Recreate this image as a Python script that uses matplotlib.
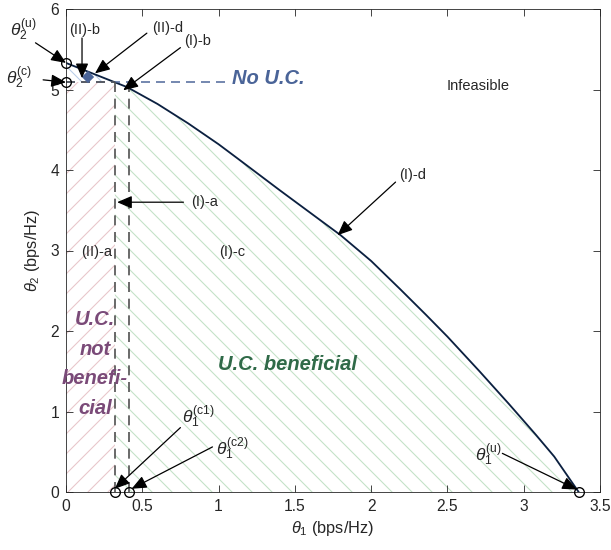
import numpy as np
import matplotlib
matplotlib.use("Agg")
import matplotlib.pyplot as plt

plt.rcParams['font.family'] = ['Liberation Sans', 'DejaVu Sans']
plt.rcParams['mathtext.fontset'] = 'custom'
plt.rcParams['mathtext.rm'] = 'Liberation Sans'
plt.rcParams['mathtext.it'] = 'Liberation Sans:italic'
plt.rcParams['mathtext.bf'] = 'Liberation Sans:bold'
plt.rcParams['hatch.linewidth'] = 0.65

# rate-region boundary (theta1, theta2) in bps/Hz
boundary_x = [0.0, 0.20, 0.32, 0.40, 0.60, 0.80, 1.00, 1.12, 1.40, 1.60,
              1.80, 2.00, 2.19, 2.36, 2.50, 2.71, 2.90, 3.08, 3.20, 3.36]
boundary_y = [5.33, 5.18, 5.09, 5.03, 4.82, 4.58, 4.32, 4.15, 3.75, 3.47,
              3.19, 2.87, 2.52, 2.20, 1.93, 1.50, 1.10, 0.71, 0.44, 0.0]

theta2_u = 5.33
theta2_c = 5.09
theta1_c1 = 0.32
theta1_c2 = 0.41
theta1_u = 3.36
no_uc_point = (0.145, 5.16)

ink = '#262626'
blue = '#4a6498'
purple = '#7a4a78'
green = '#2f6a48'

fs_note = 8.8
fs_theta = 10.4
fs_bold = 12.1

fig = plt.figure(figsize=(611 / 120, 550 / 120), dpi=120)
ax = fig.add_axes([66 / 611, 58 / 550, 534 / 611, 483 / 550])

bx = np.array(boundary_x)
by = np.array(boundary_y)

# U.C. not beneficial region (left strip)
ax.fill([0, theta1_c1, theta1_c1, 0], [0, 0, theta2_c, theta2_c],
        facecolor='none', edgecolor='#e8c6cb', hatch='//', lw=0)

# no U.C. sliver above theta2^(c)
top = bx <= theta1_c1
ax.fill(np.r_[0, bx[top]], np.r_[theta2_c, by[top]],
        facecolor='none', edgecolor='#b9cde8', hatch='\\\\', lw=0)

# U.C. beneficial region
right = bx >= theta1_c1
ax.fill(np.r_[bx[right], theta1_u, theta1_c1], np.r_[by[right], 0, 0],
        facecolor='none', edgecolor='#c3e2c8', hatch='\\\\', lw=0)

# boundary curve
ax.plot(bx, by, color='#0b2040', lw=1.1)

# dashed guides
y_c2 = np.interp(theta1_c2, bx, by)
dash = (0, (6, 4))
ax.plot([0, 1.07], [theta2_c, theta2_c], ls=dash, color=blue, lw=0.9)
ax.plot([0, theta1_c1], [theta2_c, theta2_c], ls=dash, color='#505050', lw=0.9)
ax.plot([theta1_c1, theta1_c1], [0, theta2_c], ls=dash, color='#505050', lw=1.0)
ax.plot([theta1_c2, theta1_c2], [0, y_c2], ls=dash, color='#505050', lw=1.0)

ax.plot(*no_uc_point, marker='D', color=blue, ms=4.5, mec=blue)

# corner points
ax.plot([0, 0, theta1_c1, theta1_c2, theta1_u], [theta2_u, theta2_c, 0, 0, 0],
        'o', mfc='none', mec='k', ms=5.8, mew=0.8, clip_on=False, zorder=5)

arrow = dict(arrowstyle='-|>,head_length=0.75,head_width=0.32', color='k', lw=0.75,
             shrinkA=0, shrinkB=0)


def arrow_to(xy, xytext):
    ax.annotate('', xy=xy, xytext=xytext, arrowprops=arrow, annotation_clip=False)


def label(x, y, s, size=fs_note, **kw):
    ax.text(x, y, s, fontsize=size, ha='center', va='center', color=ink, **kw)


arrow_to((0, theta2_u), (-0.20, 5.58))
label(-0.28, 5.74, r'$\theta_2^{(\mathrm{u})}$', fs_theta)
arrow_to((0, theta2_c), (-0.15, 5.12))
label(-0.31, 5.14, r'$\theta_2^{(\mathrm{c})}$', fs_theta)

arrow_to((0.105, 5.14), (0.105, 5.64))
label(0.125, 5.74, '(II)-b')
arrow_to((0.19, 5.20), (0.53, 5.70))
label(0.665, 5.76, '(II)-d')
arrow_to((0.375, 4.99), (0.75, 5.52))
label(0.865, 5.60, '(I)-b')
arrow_to((0.335, 3.60), (0.77, 3.60))
label(0.91, 3.60, '(I)-a')
arrow_to((1.78, 3.19), (2.16, 3.85))
label(2.27, 3.94, '(I)-d')

label(0.20, 2.98, '(II)-a')
label(1.09, 2.98, '(I)-c')
label(2.70, 5.04, 'Infeasible')

arrow_to((theta1_c1, 0.04), (0.75, 0.80))
label(0.87, 0.93, r'$\theta_1^{(\mathrm{c1})}$', fs_theta)
arrow_to((theta1_c2 + 0.02, 0.04), (0.96, 0.56))
label(1.09, 0.53, r'$\theta_1^{(\mathrm{c2})}$', fs_theta)
arrow_to((theta1_u - 0.01, 0.03), (2.86, 0.48))
label(2.77, 0.46, r'$\theta_1^{(\mathrm{u})}$', fs_theta)

# region captions
ax.text(1.09, 5.14, 'No U.C.', fontsize=fs_bold, fontweight='bold', fontstyle='italic',
        color=blue, ha='left', va='center')
ax.text(0.19, 1.59, 'U.C.\nnot\nbenefi-\ncial', fontsize=fs_bold, fontweight='bold',
        fontstyle='italic', color=purple, ha='center', va='center', linespacing=1.72)
ax.text(1.45, 1.58, 'U.C. beneficial', fontsize=fs_bold, fontweight='bold',
        fontstyle='italic', color=green, ha='center', va='center')

ax.set_xlim(0, 3.5)
ax.set_ylim(0, 6)
ax.set_xticks(np.arange(0, 3.51, 0.5))
ax.set_xticklabels(['0', '0.5', '1', '1.5', '2', '2.5', '3', '3.5'])
ax.set_yticks(range(7))
ax.tick_params(direction='in', top=True, right=True, length=4, width=0.5,
               labelsize=9.4, colors=ink, pad=4)
for s in ax.spines.values():
    s.set_color(ink)
    s.set_linewidth(0.5)
ax.set_xlabel(r'$\theta_1$ (bps/Hz)', fontsize=9.8, color=ink, labelpad=3)
ax.set_ylabel(r'$\theta_2$ (bps/Hz)', fontsize=9.8, color=ink, labelpad=5)

fig.savefig('out.png', dpi=120)
